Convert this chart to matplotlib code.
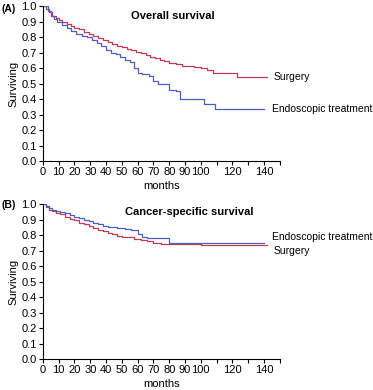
import matplotlib.pyplot as plt

plt.rcParams['font.family'] = ['Liberation Sans', 'DejaVu Sans']

red = '#c33a52'
blue = '#4d5fc6'

# (A) overall survival, step data (months, survival)
os_surg_t = [0, 2, 4, 6, 8, 10, 12, 15, 18, 20, 23, 26, 29, 32, 35, 38, 41, 44, 47, 50,
             53, 56, 59, 62, 65, 68, 71, 74, 77, 80, 84, 88, 92, 96, 100, 104, 108, 123, 142]
os_surg_s = [1.0, 0.98, 0.96, 0.94, 0.925, 0.91, 0.90, 0.885, 0.87, 0.86, 0.85, 0.835, 0.82,
             0.81, 0.795, 0.785, 0.77, 0.755, 0.745, 0.735, 0.725, 0.715, 0.705, 0.695, 0.685,
             0.675, 0.665, 0.655, 0.645, 0.635, 0.625, 0.615, 0.612, 0.605, 0.60, 0.59, 0.57,
             0.545, 0.545]
os_endo_t = [0, 3, 5, 7, 9, 12, 15, 18, 21, 25, 28, 31, 34, 37, 40, 43, 46, 49, 52, 55, 58,
             60, 63, 67, 70, 73, 76, 80, 84, 87, 102, 109, 140]
os_endo_s = [1.0, 0.97, 0.94, 0.92, 0.90, 0.88, 0.86, 0.84, 0.82, 0.81, 0.80, 0.78, 0.76,
             0.74, 0.72, 0.70, 0.69, 0.67, 0.65, 0.64, 0.60, 0.57, 0.56, 0.55, 0.52, 0.50,
             0.50, 0.46, 0.45, 0.40, 0.37, 0.335, 0.335]

# (B) cancer-specific survival
cs_endo_t = [0, 2, 4, 6, 8, 11, 14, 17, 20, 23, 26, 29, 32, 35, 38, 41, 44, 47, 52, 56, 60,
             63, 66, 80, 140]
cs_endo_s = [1.0, 0.99, 0.975, 0.965, 0.955, 0.95, 0.94, 0.93, 0.92, 0.91, 0.90, 0.89, 0.88,
             0.87, 0.86, 0.855, 0.85, 0.845, 0.84, 0.83, 0.81, 0.79, 0.78, 0.75, 0.75]
cs_surg_t = [0, 2, 4, 6, 8, 11, 14, 17, 20, 23, 26, 29, 32, 35, 38, 41, 44, 47, 50, 54, 58,
             62, 66, 70, 75, 80, 90, 100, 142]
cs_surg_s = [1.0, 0.98, 0.965, 0.955, 0.945, 0.935, 0.92, 0.905, 0.895, 0.88, 0.87, 0.86,
             0.845, 0.835, 0.825, 0.815, 0.805, 0.795, 0.79, 0.785, 0.775, 0.77, 0.76, 0.75,
             0.745, 0.745, 0.74, 0.735, 0.735]

xticks = list(range(0, 151, 10))
xlabels = [str(v) if (v <= 100 or v in (120, 140)) else '' for v in xticks]
yticks = [i / 10 for i in range(11)]

fig = plt.figure(figsize=(3.73, 3.9), dpi=100)
axA = fig.add_axes([0.115, 0.587, 0.635, 0.397])
axB = fig.add_axes([0.115, 0.0795, 0.635, 0.397])


def style(ax):
    ax.set_xlim(0, 150)
    ax.set_ylim(0, 1.0)
    ax.set_xticks(xticks)
    ax.set_xticklabels(xlabels)
    ax.set_yticks(yticks)
    ax.set_yticklabels(['%.1f' % v for v in yticks])
    ax.spines['top'].set_visible(False)
    ax.spines['right'].set_visible(False)
    for s in ('left', 'bottom'):
        ax.spines[s].set_linewidth(0.8)
    ax.tick_params(labelsize=8, length=3, width=0.8, pad=1.5)
    ax.set_xlabel('months', fontsize=8, labelpad=2.5)
    ax.set_ylabel('Surviving', fontsize=8, labelpad=2)
    ax.patch.set_alpha(0)


style(axA)
axA.step(os_surg_t, os_surg_s, where='post', color=red, lw=0.9)
axA.step(os_endo_t, os_endo_s, where='post', color=blue, lw=0.9)
axA.text(146, os_surg_s[-1], 'Surgery', fontsize=7.5, va='center', clip_on=False)
axA.text(145, os_endo_s[-1], 'Endoscopic treatment', fontsize=7.5, va='center', clip_on=False)
axA.text(0.55, 0.94, 'Overall survival', transform=axA.transAxes, ha='center',
         va='center', fontsize=8, fontweight='bold')
fig.text(0.003, 0.978, '(A)', fontsize=7.5, fontweight='bold', va='center')

style(axB)
axB.step(cs_surg_t, cs_surg_s, where='post', color=red, lw=0.9)
axB.step(cs_endo_t, cs_endo_s, where='post', color=blue, lw=0.9)
axB.text(145, cs_endo_s[-1] + 0.037, 'Endoscopic treatment', fontsize=7.5, va='center',
         clip_on=False)
axB.text(146, cs_surg_s[-1] - 0.038, 'Surgery', fontsize=7.5, va='center', clip_on=False)
axB.text(0.616, 0.948, 'Cancer-specific survival', transform=axB.transAxes, ha='center',
         va='center', fontsize=8, fontweight='bold')
fig.text(0.003, 0.474, '(B)', fontsize=7.5, fontweight='bold', va='center')

fig.savefig('out.png', dpi=100)
